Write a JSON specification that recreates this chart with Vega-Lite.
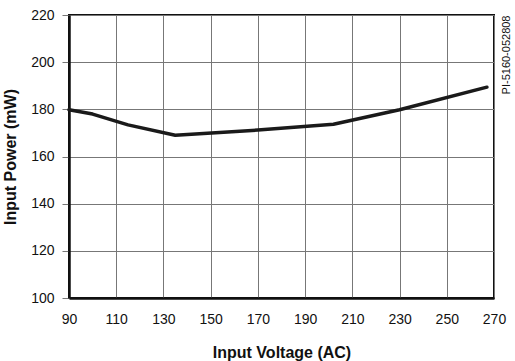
{
  "$schema": "https://vega.github.io/schema/vega-lite/v6.json",
  "width": 425,
  "height": 283,
  "autosize": "none",
  "padding": {"left": 69, "top": 15, "right": 21, "bottom": 63},
  "background": "white",
  "config": {
    "font": "Liberation Sans",
    "view": {"stroke": "#111", "strokeWidth": 2}
  },
  "data": {"values": [
    {"v": 90, "p": 179.8},
    {"v": 100, "p": 178.0},
    {"v": 115, "p": 173.4},
    {"v": 135, "p": 169.0},
    {"v": 170, "p": 171.2},
    {"v": 202, "p": 173.7},
    {"v": 230, "p": 179.8},
    {"v": 267, "p": 189.4}
  ]},
  "layer": [
    {
      "mark": {"type": "line", "color": "#1a1a1a", "strokeWidth": 3.5, "strokeJoin": "round", "strokeCap": "round"},
      "encoding": {
        "x": {"field": "v", "type": "quantitative",
          "scale": {"domain": [90, 270], "nice": false, "zero": false},
          "axis": {"values": [90,110,130,150,170,190,210,230,250,270], "title": "Input Voltage (AC)",
            "titleFontSize": 16, "titleFontWeight": "bold", "titleColor": "#111", "titlePadding": 18,
            "labelFontSize": 14, "labelColor": "#111", "labelPadding": 14, "labelFlush": false, "labelOverlap": false, "ticks": false,
            "grid": true, "gridColor": "#777", "gridWidth": 1, "domainColor": "#111", "domainWidth": 2.5}},
        "y": {"field": "p", "type": "quantitative",
          "scale": {"domain": [100, 220], "nice": false, "zero": false},
          "axis": {"values": [100,120,140,160,180,200,220], "title": "Input Power (mW)",
            "titleFontSize": 16, "titleFontWeight": "bold", "titleColor": "#111", "titlePadding": 12,
            "labelFontSize": 14, "labelColor": "#111", "labelPadding": 8, "labelFlush": false, "tickSize": 7, "tickColor": "#777",
            "grid": true, "gridColor": "#777", "gridWidth": 1, "domainColor": "#111", "domainWidth": 2.5}}
      }
    },
    {
      "mark": {"type": "line", "opacity": 0},
      "encoding": {
        "x": {"field": "v", "type": "quantitative"},
        "y": {"field": "p", "type": "quantitative",
          "axis": {"orient": "right", "title": "PI-5160-052808", "titleAngle": 270, "titleAnchor": "end",
            "titleFontSize": 11, "titleFontWeight": "normal", "titleColor": "#111", "titlePadding": 12,
            "titleBaseline": "middle",
            "labels": false, "ticks": false, "domain": false, "grid": false}}
      }
    }
  ],
  "resolve": {"axis": {"y": "independent"}}
}
